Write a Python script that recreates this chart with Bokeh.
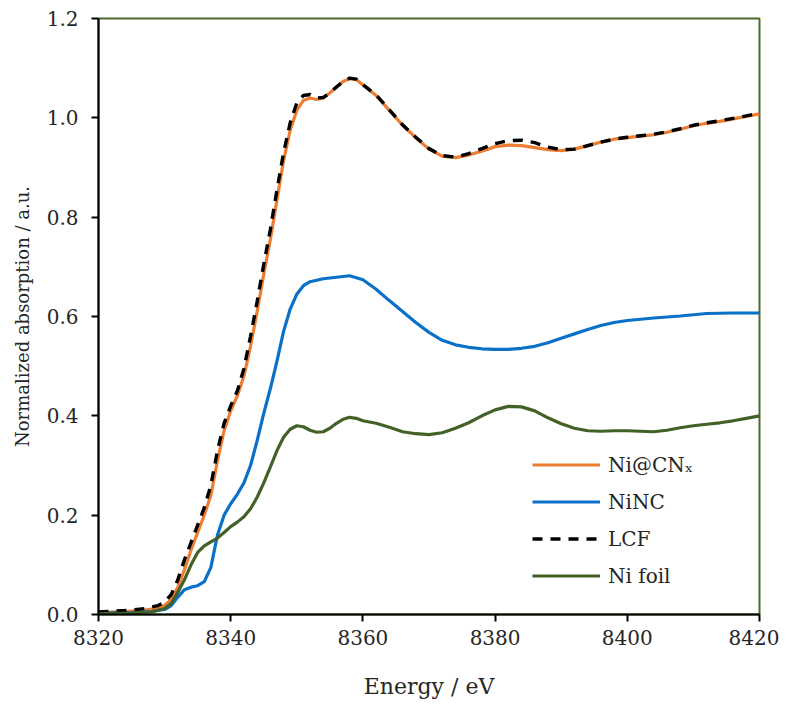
from bokeh.plotting import figure
from bokeh.models import Legend, LegendItem, FixedTicker, Range1d, CustomJSTickFormatter
from bokeh.embed import file_html
from bokeh.resources import INLINE

# ---- data ----
e_ni = [8320, 8324, 8327, 8329, 8330, 8331, 8332, 8333, 8334, 8335, 8336, 8337, 8338, 8339,
        8340, 8341, 8342, 8343, 8344, 8345, 8346, 8347, 8348, 8349, 8350, 8351, 8352, 8353,
        8354, 8355, 8356, 8357, 8358, 8359, 8360, 8362, 8364, 8366, 8368, 8370, 8372, 8374,
        8376, 8378, 8380, 8382, 8384, 8386, 8388, 8390, 8392, 8394, 8396, 8398, 8400, 8402,
        8404, 8406, 8408, 8410, 8412, 8414, 8416, 8418, 8420]
y_ni = [0.004, 0.006, 0.009, 0.013, 0.018, 0.03, 0.055, 0.09, 0.13, 0.165, 0.2, 0.24, 0.31, 0.37,
        0.41, 0.44, 0.48, 0.54, 0.61, 0.685, 0.755, 0.835, 0.914, 0.975, 1.015, 1.035, 1.04, 1.037,
        1.04, 1.05, 1.062, 1.073, 1.079, 1.077, 1.066, 1.045, 1.015, 0.985, 0.96, 0.937, 0.923, 0.92,
        0.925, 0.933, 0.942, 0.945, 0.944, 0.94, 0.936, 0.934, 0.937, 0.944, 0.951, 0.957, 0.96, 0.963,
        0.966, 0.971, 0.977, 0.984, 0.989, 0.993, 0.998, 1.003, 1.008]

e_lcf = e_ni
y_lcf = [0.005, 0.008, 0.012, 0.018, 0.025, 0.04, 0.07, 0.11, 0.145, 0.18, 0.215, 0.26, 0.33, 0.385,
         0.42, 0.45, 0.495, 0.56, 0.63, 0.705, 0.775, 0.855, 0.93, 0.99, 1.03, 1.045, 1.047, 1.04,
         1.041, 1.05, 1.062, 1.073, 1.08, 1.078, 1.067, 1.046, 1.016, 0.986, 0.961, 0.938, 0.924, 0.921,
         0.928, 0.938, 0.948, 0.954, 0.955, 0.95, 0.941, 0.936, 0.937, 0.944, 0.951, 0.957, 0.961, 0.964,
         0.967, 0.972, 0.978, 0.985, 0.99, 0.994, 0.999, 1.004, 1.01]

e_nc = [8320, 8325, 8328, 8330, 8331, 8332, 8333, 8334, 8335, 8336, 8337, 8338, 8339, 8340, 8341,
        8342, 8343, 8344, 8345, 8346, 8347, 8348, 8349, 8350, 8351, 8352, 8354, 8356, 8358, 8360,
        8362, 8364, 8366, 8368, 8370, 8372, 8374, 8376, 8378, 8380, 8382, 8384, 8386, 8388, 8390,
        8392, 8394, 8396, 8398, 8400, 8404, 8408, 8412, 8416, 8420]
y_nc = [0.003, 0.004, 0.006, 0.01, 0.018, 0.035, 0.05, 0.055, 0.058, 0.066, 0.095, 0.16, 0.2, 0.223, 0.242,
        0.265, 0.3, 0.35, 0.405, 0.455, 0.51, 0.57, 0.615, 0.645, 0.662, 0.67, 0.676, 0.679, 0.682, 0.674,
        0.655, 0.632, 0.61, 0.588, 0.568, 0.552, 0.543, 0.538, 0.535, 0.534, 0.534, 0.536, 0.54, 0.547, 0.556,
        0.565, 0.574, 0.582, 0.588, 0.592, 0.597, 0.601, 0.606, 0.607, 0.607]

e_foil = [8320, 8325, 8328, 8330, 8331, 8332, 8333, 8334, 8335, 8336, 8337, 8338, 8339, 8340, 8341,
          8342, 8343, 8344, 8345, 8346, 8347, 8348, 8349, 8350, 8351, 8352, 8353, 8354, 8355, 8356,
          8357, 8358, 8359, 8360, 8362, 8364, 8366, 8368, 8370, 8372, 8374, 8376, 8378, 8380, 8382,
          8384, 8386, 8388, 8390, 8392, 8394, 8396, 8398, 8400, 8402, 8404, 8406, 8408, 8410, 8412,
          8414, 8416, 8418, 8420]
y_foil = [0.002, 0.003, 0.005, 0.012, 0.022, 0.045, 0.07, 0.1, 0.125, 0.138, 0.146, 0.154, 0.165, 0.177, 0.186,
          0.197, 0.213, 0.236, 0.265, 0.297, 0.33, 0.357, 0.373, 0.38, 0.378, 0.371, 0.367, 0.368, 0.375, 0.385,
          0.393, 0.397, 0.395, 0.39, 0.385, 0.377, 0.368, 0.364, 0.362, 0.366, 0.375, 0.386, 0.4, 0.412, 0.419,
          0.418, 0.41, 0.396, 0.384, 0.375, 0.37, 0.369, 0.37, 0.37, 0.369, 0.368, 0.371, 0.376, 0.38, 0.383,
          0.386, 0.39, 0.395, 0.4]

x_ticks = [8320, 8340, 8360, 8380, 8400, 8420]
y_ticks = [0.0, 0.2, 0.4, 0.6, 0.8, 1.0, 1.2]
labels = ["Ni@CNₓ", "NiNC", "LCF", "Ni foil"]

FONT = "DejaVu Serif"
TXT = "#262626"

p = figure(frame_width=661, frame_height=596,
           x_range=Range1d(8320, 8420), y_range=Range1d(0, 1.2),
           output_backend="svg", toolbar_location=None,
           min_border_left=98, min_border_top=18, min_border_right=20, min_border_bottom=84)

p.grid.visible = False
p.outline_line_color = "#4a6b2a"
p.outline_line_width = 2
p.background_fill_color = "white"
p.border_fill_color = "white"

r_ni = p.line(e_ni, y_ni, line_color="#ed7d31", line_width=3.2)
r_nc = p.line(e_nc, y_nc, line_color="#0a70c8", line_width=3.2)
r_lcf = p.line(e_lcf, y_lcf, line_color="black", line_width=3.4, line_dash="10 8")
r_foil = p.line(e_foil, y_foil, line_color="#426127", line_width=3.2)

for ax in (p.xaxis[0], p.yaxis[0]):
    ax.axis_line_width = 2
    ax.axis_line_color = "black"
    ax.major_tick_line_width = 2
    ax.major_tick_line_color = "black"
    ax.major_tick_out = 7
    ax.major_tick_in = 0
    ax.minor_tick_out = 0
    ax.minor_tick_in = 0
    ax.major_label_text_font = FONT
    ax.major_label_text_font_size = "20px"
    ax.major_label_text_color = TXT
    ax.axis_label_text_font = FONT
    ax.axis_label_text_font_style = "normal"
    ax.axis_label_text_color = TXT

p.xaxis[0].ticker = FixedTicker(ticks=x_ticks)
p.yaxis[0].ticker = FixedTicker(ticks=y_ticks)
p.yaxis[0].formatter = CustomJSTickFormatter(code="return tick.toFixed(1);")
p.xaxis[0].axis_label = "Energy / eV"
p.yaxis[0].axis_label = "Normalized absorption / a.u."
p.xaxis[0].axis_label_text_font_size = "22px"
p.yaxis[0].axis_label_text_font_size = "18px"
p.xaxis[0].major_label_standoff = 8
p.yaxis[0].major_label_standoff = 13
p.xaxis[0].axis_label_standoff = 26
p.yaxis[0].axis_label_standoff = 11

legend = Legend(items=[LegendItem(label=labels[0], renderers=[r_ni]),
                       LegendItem(label=labels[1], renderers=[r_nc]),
                       LegendItem(label=labels[2], renderers=[r_lcf]),
                       LegendItem(label=labels[3], renderers=[r_foil])],
                location=(434, 20), orientation="vertical",
                glyph_width=68, glyph_height=37, label_height=37, spacing=0,
                label_standoff=8, padding=0, margin=0,
                border_line_color=None, background_fill_alpha=0,
                label_text_font=FONT, label_text_font_size="20px", label_text_color=TXT)
p.add_layout(legend)

open("out.html", "w").write(file_html(p, INLINE))
